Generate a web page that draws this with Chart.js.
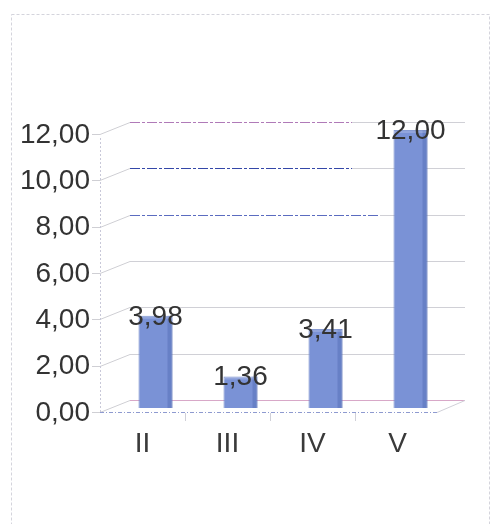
<!DOCTYPE html>
<html>
<head>
<meta charset="utf-8">
<script src="https://cdn.jsdelivr.net/npm/chart.js@4/dist/chart.umd.min.js"></script>
<style>
  html, body { margin: 0; padding: 0; background: #fff; }
  canvas { display: block; }
</style>
</head>
<body>
<canvas id="c" width="493" height="524"></canvas>
<script>
// Chart data
const categories = ['II', 'III', 'IV', 'V'];
const values = [3.98, 1.36, 3.41, 12.00];
const yTicks = [0, 2, 4, 6, 8, 10, 12];

const fmt = v => v.toFixed(2).replace('.', ',');

// Depth offsets of the pseudo-3D box (front wall / back wall)
const DEPTH_X = 30;
const FRONT_DY = 4;
const BACK_DY = -8;
const BAR_SHIFT_X = 13;

const wallPlugin = {
  id: 'wall',
  beforeDatasetsDraw(chart) {
    const { ctx, chartArea: a, scales: { y } } = chart;
    const left = a.left, backLeft = a.left + DEPTH_X, backRight = a.right + 25;
    ctx.save();

    // outer frame
    ctx.strokeStyle = '#d4d4dc';
    ctx.lineWidth = 1;
    ctx.setLineDash([3, 2]);
    ctx.strokeRect(11.5, 14.5, 478, 520);
    ctx.setLineDash([]);

    yTicks.forEach(v => {
      const yb = Math.round(y.getPixelForValue(v) + BACK_DY) + 0.5;
      const yf = Math.round(y.getPixelForValue(v) + FRONT_DY + (12 - v) * 0.0) + 0.5;
      ctx.strokeStyle = '#cfcfd4';
      ctx.setLineDash([]);
      ctx.beginPath();
      ctx.moveTo(left - 8, yf);
      ctx.lineTo(left, yf);
      ctx.lineTo(backLeft, yb);
      ctx.stroke();
      // back wall gridline
      let accent = null;
      if (v === 12) accent = ['#b07ab8', 352];
      if (v === 10) accent = ['#3447a8', 352];
      if (v === 8) accent = ['#5b6cc0', 380];
      if (accent) {
        ctx.strokeStyle = accent[0];
        ctx.setLineDash([10, 2, 3, 2]);
        ctx.beginPath();
        ctx.moveTo(backLeft, yb);
        ctx.lineTo(accent[1], yb);
        ctx.stroke();
        ctx.setLineDash([]);
        ctx.strokeStyle = '#d0d0d6';
        ctx.beginPath();
        ctx.moveTo(accent[1], yb);
        ctx.lineTo(backRight, yb);
        ctx.stroke();
      } else {
        ctx.strokeStyle = v === 0 ? '#d8a8c8' : '#d0d0d6';
        ctx.beginPath();
        ctx.moveTo(backLeft, yb);
        ctx.lineTo(backRight, yb);
        ctx.stroke();
      }
    });

    // front vertical axis line
    const fTop = y.getPixelForValue(12) + FRONT_DY + 4;
    const fBot = y.getPixelForValue(0) + FRONT_DY;
    ctx.strokeStyle = '#c8c8d8';
    ctx.setLineDash([2, 2]);
    ctx.beginPath();
    ctx.moveTo(left + 0.5, fTop);
    ctx.lineTo(left + 0.5, fBot);
    ctx.stroke();

    // floor front edge and right side
    ctx.strokeStyle = '#8e9ad0';
    ctx.setLineDash([4, 2, 1, 2]);
    ctx.beginPath();
    ctx.moveTo(left, Math.round(fBot) + 0.5);
    ctx.lineTo(a.right - 3, Math.round(fBot) + 0.5);
    ctx.stroke();
    ctx.setLineDash([]);
    ctx.strokeStyle = '#d0d0d8';
    ctx.beginPath();
    ctx.moveTo(a.right - 3, Math.round(fBot) + 0.5);
    ctx.lineTo(backRight, y.getPixelForValue(0) + BACK_DY + 0.5);
    ctx.stroke();

    // category separators under the floor
    const x = chart.scales.x;
    for (let i = 1; i < categories.length; i++) {
      const px = Math.round((x.getPixelForValue(i - 1) + x.getPixelForValue(i)) / 2) + 0.5;
      ctx.beginPath();
      ctx.moveTo(px, fBot + 1);
      ctx.lineTo(px, fBot + 9);
      ctx.stroke();
    }
    ctx.restore();

    // bars sit in the middle depth plane
    ctx.save();
    ctx.translate(BAR_SHIFT_X, 0);
  },
  afterDatasetsDraw(chart) {
    const { ctx } = chart;
    const meta = chart.getDatasetMeta(0);
    // darker side strip on each bar
    meta.data.forEach(bar => {
      const w = bar.width;
      ctx.fillStyle = 'rgba(70,95,170,0.35)';
      ctx.fillRect(bar.x + w / 2 - 5, bar.y, 5, bar.base - bar.y);
      ctx.fillStyle = 'rgba(255,255,255,0.18)';
      ctx.fillRect(bar.x - w / 2, bar.y, w, 3);
    });
    ctx.restore();

    // value labels centred on the bar tops
    ctx.save();
    ctx.font = '28px "Liberation Sans", Arial, sans-serif';
    ctx.fillStyle = '#333333';
    ctx.textAlign = 'center';
    ctx.textBaseline = 'middle';
    meta.data.forEach((bar, i) => {
      ctx.fillText(fmt(values[i]), bar.x + BAR_SHIFT_X, bar.y + 1);
    });
    ctx.restore();
  }
};

new Chart(document.getElementById('c'), {
  type: 'bar',
  data: {
    labels: categories,
    datasets: [{
      data: values,
      backgroundColor: '#7a92d6',
      borderColor: '#6c84c8',
      borderWidth: 1,
      barPercentage: 0.8,
      categoryPercentage: 0.5
    }]
  },
  options: {
    responsive: false,
    animation: false,
    events: [],
    layout: { padding: { left: 0, right: 53, top: 130, bottom: 0 } },
    plugins: { legend: { display: false }, tooltip: { enabled: false } },
    scales: {
      x: {
        grid: { display: false, drawTicks: false },
        border: { display: false },
        ticks: {
          padding: 19,
          color: '#3a3a3a',
          font: { family: '"Liberation Sans", Arial, sans-serif', size: 28 }
        },
        afterFit(s) { s.height = 116; }
      },
      y: {
        min: 0,
        max: 12,
        grid: { display: false, drawTicks: false },
        border: { display: false },
        afterBuildTicks(s) { s.ticks = yTicks.map(v => ({ value: v })); },
        afterFit(s) { s.width = 100; },
        ticks: {
          padding: 10,
          labelOffset: 5,
          color: '#333333',
          font: { family: '"Liberation Sans", Arial, sans-serif', size: 28 },
          callback: v => fmt(v)
        }
      }
    }
  },
  plugins: [wallPlugin]
});
</script>
</body>
</html>
